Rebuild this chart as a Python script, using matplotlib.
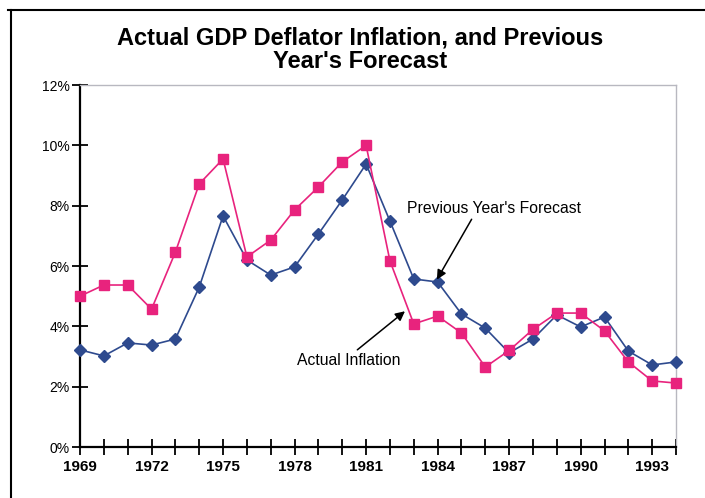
import matplotlib
matplotlib.use('Agg')
import matplotlib.pyplot as plt
from matplotlib.lines import Line2D

plt.rcParams['font.family'] = ['Liberation Sans', 'DejaVu Sans']

# GDP deflator inflation (%) and the forecast made the year before
years = list(range(1969, 1995))
actual = [5.0, 5.37, 5.37, 4.57, 6.46, 8.72, 9.55, 6.3, 6.86, 7.86, 8.62, 9.45, 10.0,
          6.17, 4.08, 4.34, 3.78, 2.65, 3.2, 3.9, 4.44, 4.44, 3.85, 2.82, 2.19, 2.12]
forecast = [3.22, 3.02, 3.45, 3.38, 3.58, 5.3, 7.66, 6.2, 5.7, 5.97, 7.06, 8.19, 9.38,
            7.49, 5.57, 5.47, 4.41, 3.94, 3.12, 3.58, 4.38, 3.98, 4.31, 3.18, 2.72, 2.82]
yticks = [0, 2, 4, 6, 8, 10, 12]
xticks_lab = list(range(1969, 1995, 3))

fig = plt.figure(figsize=(7.05, 4.98), dpi=100)
ax = fig.add_axes([0.1135, 0.1024, 0.8454, 0.7269])

pink = '#e8237d'
navy = '#2e4a8e'
ax.plot(years, forecast, color=navy, lw=1.2, marker='D', ms=6,
        mfc=navy, mec=navy, zorder=3, clip_on=False)
ax.plot(years, actual, color=pink, lw=1.2, marker='s', ms=6.5,
        mfc=pink, mec=pink, zorder=4, clip_on=False)

ax.set_xlim(1969, 1994)
ax.set_ylim(0, 12)
ax.set_yticks(yticks)
ax.set_yticklabels([f'{v}%' for v in yticks], fontsize=10)
ax.set_xticks(years)
ax.set_xticklabels([str(y) if y in xticks_lab else '' for y in years],
                   fontsize=11, fontweight='bold')
ax.tick_params(axis='both', direction='inout', length=11, width=1.3, color='black')
ax.tick_params(axis='x', pad=4)
ax.tick_params(axis='y', pad=2)

for s in ['left', 'bottom']:
    ax.spines[s].set_linewidth(1.6)
    ax.spines[s].set_color('black')
for s in ['top', 'right']:
    ax.spines[s].set_linewidth(1.0)
    ax.spines[s].set_color('#b8b8c0')

fig.text(0.511, 0.923, "Actual GDP Deflator Inflation, and Previous",
         ha='center', va='center', fontsize=17, fontweight='bold')
fig.text(0.511, 0.876, "Year's Forecast",
         ha='center', va='center', fontsize=17, fontweight='bold')

ax.annotate("Previous Year's Forecast", xy=(1983.97, 5.55), xytext=(1982.72, 7.89),
            fontsize=11.3, va='center', ha='left',
            arrowprops=dict(arrowstyle='-|>', color='black', lw=1.1,
                            mutation_scale=14, shrinkA=0, shrinkB=0,
                            relpos=(0.38, 0.0)))
ax.annotate("Actual Inflation", xy=(1982.63, 4.5), xytext=(1978.1, 2.88),
            fontsize=11.3, va='center', ha='left',
            arrowprops=dict(arrowstyle='-|>', color='black', lw=1.1,
                            mutation_scale=14, shrinkA=0, shrinkB=0,
                            relpos=(0.55, 1.0)))

# frame lines around the chart
fig.add_artist(Line2D([8 / 705, 1.0], [1 - 10 / 498, 1 - 10 / 498],
                      transform=fig.transFigure, color='black', lw=1.5))
fig.add_artist(Line2D([11 / 705, 11 / 705], [0, 1 - 10 / 498],
                      transform=fig.transFigure, color='black', lw=1.5))

fig.savefig('out.png', dpi=100)
